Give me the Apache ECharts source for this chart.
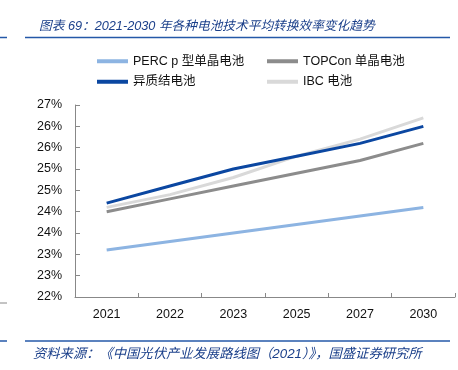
<!DOCTYPE html>
<html><head><meta charset="utf-8">
<script src="https://cdn.jsdelivr.net/npm/echarts@6/dist/echarts.min.js"></script>
<style>html,body{margin:0;padding:0;background:#fff}#c{width:458px;height:370px}</style>
</head><body><div id="c"></div>
<script>
const categories = ['2021','2022','2023','2025','2027','2030'];
const percValues = [23.1, 23.3, 23.5, 23.7, 23.9, 24.1];
const topconValues = [24.0, 24.3, 24.6, 24.9, 25.2, 25.6];
const hjtValues = [24.2, 24.6, 25.0, 25.3, 25.6, 26.0];
const ibcValues = [24.1, 24.4, 24.8, 25.3, 25.7, 26.2];
const yTickLabels = ['22%','23%','23%','24%','24%','25%','25%','26%','26%','27%'];
const seriesNames = ['PERC p 型单晶电池','TOPCon 单晶电池','异质结电池','IBC 电池'];

const FONT = '"Liberation Sans","Noto Sans CJK SC",sans-serif';
const chart = echarts.init(document.getElementById('c'));
const yMin = 22, yStep = 0.5;
function mk(name, data, color) {
  return {name, type:'line', data, symbol:'none', smooth:false,
    lineStyle:{color, width:3}, itemStyle:{color}};
}
chart.setOption({
  animation:false,
  textStyle:{fontFamily:FONT},
  title:{text:'图表 69：2021-2030 年各种电池技术平均转换效率变化趋势', left:34, top:15,
    textStyle:{fontSize:12.7, fontStyle:'italic', fontWeight:'normal', color:'#1a3f8a', fontFamily:FONT}},
  graphic:[
    {type:'line', shape:{x1:25,y1:37.5,x2:450,y2:37.5}, style:{stroke:'#2458a8', lineWidth:1.5}},
    {type:'line', shape:{x1:0,y1:37.5,x2:7,y2:37.5}, style:{stroke:'#2458a8', lineWidth:1.5}},
    {type:'line', shape:{x1:25,y1:341,x2:450,y2:341}, style:{stroke:'#2458a8', lineWidth:1.5}},
    {type:'line', shape:{x1:0,y1:341,x2:7,y2:341}, style:{stroke:'#2458a8', lineWidth:1.5}},
    {type:'line', shape:{x1:0,y1:303,x2:7,y2:303}, style:{stroke:'#888', lineWidth:1}},
    {type:'text', left:33, top:348, style:{text:'资料来源：《中国光伏产业发展路线图（2021）》，国盛证券研究所',
      fill:'#1a3f8a', font:'italic 13.3px '+FONT}}
  ],
  legend:[
    {data:[seriesNames[0], seriesNames[2]], orient:'vertical', left:92, top:50, itemGap:8,
      itemWidth:31, itemHeight:4, icon:'rect', textStyle:{fontSize:12.5, color:'#111', fontFamily:FONT}},
    {data:[seriesNames[1], seriesNames[3]], orient:'vertical', left:262, top:50, itemGap:8,
      itemWidth:31, itemHeight:4, icon:'rect', textStyle:{fontSize:12.5, color:'#111', fontFamily:FONT}}
  ],
  grid:{left:75, right:3, top:105, bottom:73, containLabel:false},
  xAxis:{type:'category', data:categories, boundaryGap:true,
    axisLine:{lineStyle:{color:'#888', width:1}},
    axisTick:{show:true, inside:true, length:4, lineStyle:{color:'#888'}},
    axisLabel:{color:'#111', fontSize:12.5, margin:11, fontFamily:FONT}},
  yAxis:{type:'value', min:yMin, max:26.5, interval:yStep,
    axisLine:{show:true, lineStyle:{color:'#888', width:1}},
    axisTick:{show:true, inside:true, length:5, lineStyle:{color:'#888'}},
    splitLine:{show:false},
    axisLabel:{color:'#111', fontSize:12.5, margin:13, fontFamily:FONT,
      formatter:v=>yTickLabels[Math.round((v-yMin)/yStep)] || ''}},
  series:[
    mk(seriesNames[3], ibcValues, '#d9d9d9'),
    mk(seriesNames[0], percValues, '#8db4e2'),
    mk(seriesNames[1], topconValues, '#8c8c8c'),
    mk(seriesNames[2], hjtValues, '#0b47a1')
  ]
});
</script></body></html>
